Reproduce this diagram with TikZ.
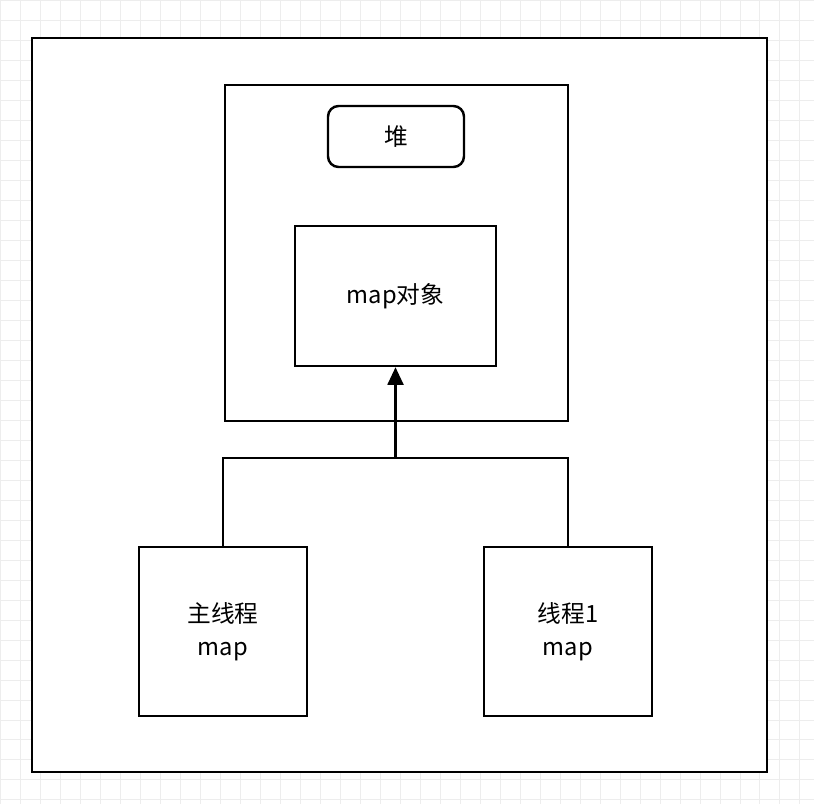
\documentclass[tikz,border=0pt]{standalone}
\usepackage{fontspec}
\setmainfont{Noto Sans CJK SC}
\usetikzlibrary{calc,positioning,arrows.meta}

\begin{document}
\begin{tikzpicture}[x=0.02cm,y=-0.02cm,
  box/.style={rectangle,draw=black,line width=1.4pt,inner sep=0pt,align=center,font=\fontsize{13.5}{19}\selectfont},
  link/.style={line width=1.4pt}]

\useasboundingbox (0,0) rectangle (814,804);

% grid
\draw[black!7,line width=0.4pt,step=0.4cm] (0,0) grid (814,804);

\coordinate (LEFTCORNER) at (0,0);

% outer frame and heap
\node[box,minimum width=14.7cm,minimum height=14.68cm,fill=white] at ($(LEFTCORNER)+(399.5,405)$) (outer) {};
\node[box,minimum width=6.86cm,minimum height=6.72cm] at ($(LEFTCORNER)+(396.5,253)$) (heap) {};
\node[box,rounded corners=6pt,minimum width=2.72cm,minimum height=1.22cm] at ($(LEFTCORNER)+(396,136.5)$) (heaplabel) {堆};
\node[box,minimum width=4.02cm,minimum height=2.8cm] at ($(LEFTCORNER)+(395.5,296)$) (mapobj) {map对象};

% threads
\node[box,minimum width=3.36cm,minimum height=3.38cm] at ($(LEFTCORNER)+(223,631.5)$) (mainmap) {主线程\\map};
\node[box,minimum width=3.36cm,minimum height=3.38cm] at ($(LEFTCORNER)+(568,631.5)$) (t1map) {线程1\\map};

\coordinate (JOIN) at ($(mapobj.south)+(0,91)$);
\draw[link] (mainmap.north) |- (JOIN) -| (t1map.north);
\draw[link,-{Triangle[length=10pt,width=9pt]}] (JOIN) -- (mapobj.south);

\end{tikzpicture}
\end{document}
